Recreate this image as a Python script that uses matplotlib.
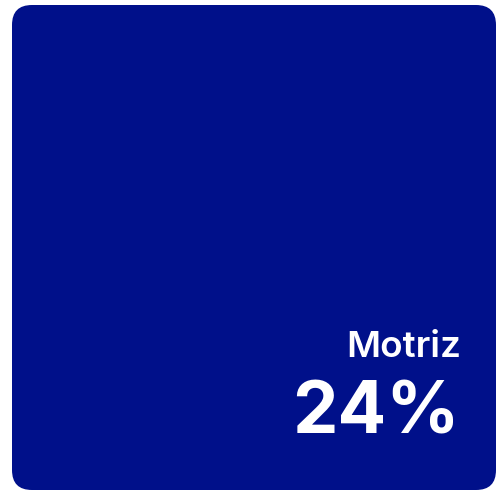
import matplotlib.pyplot as plt
from matplotlib.patches import FancyBboxPatch

plt.rcParams['font.family'] = ['Inter', 'DejaVu Sans']

# data
labels = ["Motriz"]
values = [24]
colors = ["#00108a"]

W, H = 497, 491
fig = plt.figure(figsize=(W / 100, H / 100), dpi=100)
ax = fig.add_axes([0, 0, 1, 1])
ax.set_xlim(0, W)
ax.set_ylim(H, 0)
ax.axis("off")

# single tile, rounded
x0, y0, x1, y1 = 12, 5, 496, 490
r = 20
tile = FancyBboxPatch((x0 + r, y0 + r), (x1 - x0) - 2 * r, (y1 - y0) - 2 * r,
                      boxstyle="round,pad=%d" % r, linewidth=0,
                      facecolor=colors[0])
ax.add_patch(tile)

ax.text(461, 357, labels[0], ha="right", va="baseline",
        fontsize=26.5, fontweight="semibold", color="white")
ax.text(460, 434, "%d%%" % values[0], ha="right", va="baseline",
        fontsize=52, fontweight="bold", color="white")

fig.savefig("out.png", dpi=100)
